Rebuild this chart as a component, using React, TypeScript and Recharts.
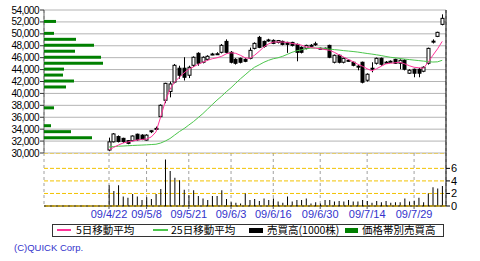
import React from 'react';
import {
  ComposedChart,
  BarChart,
  Bar,
  Line,
  XAxis,
  YAxis,
  CartesianGrid,
  ReferenceLine,
} from 'recharts';

// 営業日（09/4/22 上場〜09/8/6）
const dates = [
  '09/4/22', '09/4/23', '09/4/24', '09/4/27', '09/4/28', '09/4/30', '09/5/1', '09/5/7', '09/5/8', '09/5/11',
  '09/5/12', '09/5/13', '09/5/14', '09/5/15', '09/5/18', '09/5/19', '09/5/20', '09/5/21', '09/5/22', '09/5/25',
  '09/5/26', '09/5/27', '09/5/28', '09/5/29', '09/6/1', '09/6/2', '09/6/3', '09/6/4', '09/6/5', '09/6/8',
  '09/6/9', '09/6/10', '09/6/11', '09/6/12', '09/6/15', '09/6/16', '09/6/17', '09/6/18', '09/6/19', '09/6/22',
  '09/6/23', '09/6/24', '09/6/25', '09/6/26', '09/6/29', '09/6/30', '09/7/1', '09/7/2', '09/7/3', '09/7/6',
  '09/7/7', '09/7/8', '09/7/9', '09/7/10', '09/7/13', '09/7/14', '09/7/15', '09/7/16', '09/7/17', '09/7/21',
  '09/7/22', '09/7/23', '09/7/24', '09/7/27', '09/7/28', '09/7/29', '09/7/30', '09/7/31', '09/8/3', '09/8/4',
  '09/8/5', '09/8/6',
];

const open = [
  30500, 31870, 32760, 32460, 32070, 32070, 33150, 33000, 32160, 33640,
  34030, 36100, 38850, 40320, 41890, 44230, 44230, 43050, 44720, 46730,
  45230, 45720, 46560, 46610, 46900, 48730, 46900, 45720, 45890, 45720,
  45890, 47560, 49400, 48730, 48970, 48900, 48560, 48730, 48560, 48560,
  48230, 47730, 47560, 48080, 48280, 47590, 47540, 48060, 45230, 46400,
  45230, 45560, 45230, 44580, 45230, 42210, 44230, 45060, 45890, 45240,
  45400, 45720, 45060, 45560, 43390, 44060, 44060, 43720, 45060, 48730,
  49570, 51590,
];
const high = [
  32580, 33350, 32950, 32560, 32170, 32950, 33250, 33150, 33150, 33840,
  34430, 38160, 41790, 41990, 44940, 44650, 46070, 44650, 46220, 46910,
  46220, 46410, 46810, 46910, 48290, 49070, 47110, 45920, 46020, 45920,
  47690, 48570, 49650, 48870, 49170, 49070, 48970, 48870, 48670, 48670,
  48380, 47890, 48180, 48280, 48670, 47690, 47690, 48180, 46520, 46520,
  46020, 45720, 45340, 44740, 45340, 43370, 45230, 46020, 46020, 45440,
  45540, 45820, 45720, 45720, 44060, 44160, 44260, 44550, 47690, 49070,
  50350, 53270,
];
const low = [
  30300, 31770, 31770, 31670, 31470, 31970, 32070, 32160, 32070, 33340,
  33830, 35900, 38360, 39340, 41690, 42470, 42170, 42570, 44450, 44650,
  45040, 45530, 46420, 46510, 46710, 46710, 45040, 44840, 45040, 45240,
  45720, 47390, 47590, 47690, 48670, 48270, 48380, 48070, 46800, 47880,
  45390, 46710, 47390, 47880, 47980, 47490, 47390, 45920, 45040, 45040,
  45040, 45340, 44550, 43880, 41690, 41980, 43550, 44840, 44650, 45040,
  45240, 44940, 44060, 43860, 43270, 42710, 42710, 43560, 44840, 48380,
  49450, 51430,
];
const close = [
  31870, 33200, 31920, 31920, 31620, 32850, 32210, 32260, 33000, 33740,
  34130, 38010, 41690, 41590, 44720, 43050, 42710, 44390, 46070, 45060,
  46070, 46230, 46610, 46660, 48070, 46900, 45230, 45060, 45230, 45390,
  47230, 48400, 47730, 47890, 48920, 48400, 48870, 48230, 48230, 48060,
  46900, 46900, 48060, 48030, 48330, 47540, 47590, 46070, 46400, 45230,
  45890, 45530, 44720, 44550, 41880, 43220, 44190, 45890, 44890, 45210,
  45380, 45060, 45560, 44060, 43890, 43390, 43390, 44390, 47560, 48770,
  50250, 52600,
];

// 5日・25日移動平均
const ma5 = [
  30510, 30940, 31340, 31680, 31850, 32010, 32180, 32270, 32350, 32690,
  33530, 36030, 38700, 40700, 41960, 42710, 43460, 44050, 44460, 44890,
  45230, 45560, 45820, 45980, 46230, 46650, 46820, 46730, 46400, 45980,
  45890, 46400, 47060, 47810, 48310, 48620, 48620, 48620, 48560, 48390,
  48270, 48100, 47810, 47700, 47600, 47510, 47360, 47230, 46900, 46480,
  46100, 45700, 45320, 44890, 44560, 44140, 43800, 44140, 44560, 44970,
  45060, 45150, 45230, 44970, 44640, 44390, 44310, 44230, 45230, 46400,
  47480, 48730,
];
const ma25 = [
  31000, 31090, 31140, 31170, 31220, 31260, 31300, 31330, 31370, 31420,
  31470, 31670, 32010, 32430, 33020, 33600, 34100, 34690, 35270, 35940,
  36610, 37370, 38120, 38870, 39540, 40290, 40950, 41710, 42450, 43120,
  43800, 44390, 44800, 45230, 45560, 45820, 45980, 46230, 46560, 46900,
  47150, 47320, 47480, 47600, 47610, 47610, 47530, 47440, 47350, 47280,
  47180, 47110, 47030, 46940, 46820, 46700, 46600, 46480, 46350, 46200,
  46060, 45980, 45860, 45760, 45680, 45590, 45510, 45420, 45340, 45270,
  45300, 45560,
];

// 売買高(1000株)
const volume = [
  3.3, 2.4, 3.3, 1.5, 1.3, 1.9, 1.5, 0.95, 1.4, 1.1,
  1.9, 2.7, 7.4, 5.6, 4.5, 4.1, 2.6, 1.7, 2.5, 1.6,
  1.2, 0.95, 1.6, 1.6, 2.5, 1.1, 0.6, 0.5, 0.4, 2.0,
  0.95, 1.1, 0.8, 1.2, 0.95, 1.2, 0.7, 0.5, 1.5, 0.7,
  0.95, 0.95, 1.2, 0.4, 0.6, 0.4, 0.95, 0.95, 0.7, 0.8,
  0.7, 0.95, 0.7, 0.7, 0.95, 0.8, 0.5, 0.8, 0.6, 0.8,
  0.5, 0.6, 0.6, 1.2, 0.7, 0.85, 1.3, 0.6, 2.0, 3.0,
  2.8, 3.2,
];

// 価格帯別売買高
const bandPrices = [52000, 50000, 49000, 48000, 47000, 46000, 45000, 44000, 43000, 42000, 41000, 37500, 34500, 33500, 32500];
const bandVolumes = [12, 10, 32, 50, 31, 57, 59, 20, 19, 30, 22, 10, 7, 27, 48];

const tickLabels = ['09/4/22', '09/5/8', '09/5/21', '09/6/3', '09/6/16', '09/6/30', '09/7/14', '09/7/29'];
const priceTicks = [30000, 32000, 34000, 36000, 38000, 40000, 42000, 44000, 46000, 48000, 50000, 52000, 54000];
const volumeTicks = [0, 2, 4, 6];

const X_DOMAIN: [number, number] = [-13.85, 71.8];
const PINK = '#ff3399';
const LIGHT_GREEN = '#4cc64c';
const DARK_GREEN = '#008000';
const GOLD = '#f2c200';
const BLUE = '#3333cc';
const FONT = '"Liberation Sans", Arial, sans-serif';
const JP_FONT = '"Noto Sans CJK JP", sans-serif';

const rows = dates.map((date, i) => ({
  i,
  date,
  open: open[i],
  high: high[i],
  low: low[i],
  close: close[i],
  range: [low[i], high[i]],
  ma5: ma5[i],
  ma25: ma25[i],
  volume: volume[i],
}));

const bands = bandPrices.map((price, k) => ({ price, vol: bandVolumes[k] }));
const tickIdx = tickLabels.map(d => dates.indexOf(d));

// ローソク足
const Candle = (props: any) => {
  const { x, y, width, height, payload } = props;
  if (!payload || height == null) return null;
  const { open: o, high: h, low: l, close: c } = payload;
  const ratio = h > l ? height / (h - l) : 0;
  const cx = Math.round(x + width / 2) + 0.5;
  const yO = y + (h - o) * ratio;
  const yC = y + (h - c) * ratio;
  const top = Math.min(yO, yC);
  const bodyH = Math.max(Math.abs(yO - yC), 1);
  const up = c >= o;
  return (
    <g>
      <line x1={cx} x2={cx} y1={y} y2={y + height} stroke="#000" strokeWidth={1} />
      <rect
        x={cx - 1.5}
        y={top}
        width={3}
        height={bodyH}
        fill={up ? '#fff' : '#000'}
        stroke="#000"
        strokeWidth={1}
      />
    </g>
  );
};

const legendText: React.CSSProperties = {
  position: 'absolute',
  top: 223,
  fontFamily: JP_FONT,
  fontSize: 10.5,
  lineHeight: '14px',
  color: '#000',
  whiteSpace: 'nowrap',
};

export default function App() {
  return (
    <div style={{ position: 'absolute', left: 0, top: 0, width: 480, height: 261, background: '#fff', fontFamily: FONT }}>
      {/* 株価 */}
      <div style={{ position: 'absolute', left: 0, top: 0 }}>
        <ComposedChart width={480} height={162} data={rows} margin={{ top: 10, right: 34, bottom: 9, left: 0 }}>
          <CartesianGrid horizontal={false} stroke="#a0a0a0" strokeDasharray="3 3" />
          <CartesianGrid vertical={false} stroke="#b4b4b4" />
          <XAxis
            dataKey="i"
            type="number"
            domain={X_DOMAIN}
            allowDataOverflow
            ticks={tickIdx}
            interval={0}
            tick={false}
            tickLine={false}
            axisLine={false}
            height={0}
          />
          <YAxis
            type="number"
            domain={[30000, 54000]}
            allowDataOverflow
            ticks={priceTicks}
            interval={0}
            width={44}
            tickSize={4}
            tickMargin={1}
            tickFormatter={(v: number) => v.toLocaleString('en-US')}
            tick={{ fontSize: 10, fill: '#000', fontFamily: FONT, letterSpacing: -0.5 }}
            tickLine={{ stroke: '#333' }}
            axisLine={{ stroke: '#666' }}
          />
          <Bar dataKey="range" barSize={5} shape={<Candle />} isAnimationActive={false} />
          <Line type="linear" dataKey="ma25" stroke={LIGHT_GREEN} strokeWidth={1} dot={false} isAnimationActive={false} />
          <Line type="linear" dataKey="ma5" stroke={PINK} strokeWidth={1} dot={false} isAnimationActive={false} />
          <ReferenceLine x={X_DOMAIN[1]} stroke="#000" ifOverflow="visible" />
        </ComposedChart>
      </div>

      {/* 価格帯別売買高 */}
      <div style={{ position: 'absolute', left: 0, top: 0, pointerEvents: 'none' }}>
        <BarChart layout="vertical" width={480} height={162} data={bands} margin={{ top: 10, right: 34, bottom: 9, left: 44 }}>
          <XAxis type="number" domain={[0, 402]} allowDataOverflow hide />
          <YAxis type="number" dataKey="price" domain={[30000, 54000]} allowDataOverflow reversed hide />
          <Bar dataKey="vol" fill={DARK_GREEN} barSize={3} isAnimationActive={false} />
        </BarChart>
      </div>

      {/* 売買高 */}
      <div style={{ position: 'absolute', left: 0, top: 153 }}>
        <ComposedChart width={480} height={75} data={rows} margin={{ top: 0, right: 0, bottom: 0, left: 44 }}>
          <CartesianGrid horizontal={false} stroke="#a0a0a0" strokeDasharray="3 3" />
          <CartesianGrid vertical={false} stroke={GOLD} strokeDasharray="4 2" />
          <XAxis
            dataKey="i"
            type="number"
            domain={X_DOMAIN}
            allowDataOverflow
            ticks={tickIdx}
            interval={0}
            height={22}
            tickFormatter={(v: number) => dates[v]}
            tickSize={3}
            tickMargin={1}
            axisLine={false}
            tickLine={{ stroke: '#555' }}
            tick={{ fontSize: 11, fill: BLUE, fontFamily: FONT }}
          />
          <YAxis
            orientation="right"
            type="number"
            domain={[0, 8.45]}
            allowDataOverflow
            ticks={volumeTicks}
            interval={0}
            width={34}
            tickSize={4}
            tickMargin={1}
            axisLine={{ stroke: '#000' }}
            tickLine={{ stroke: '#000' }}
            tick={{ fontSize: 11, fill: '#000', fontFamily: FONT }}
          />
          <ReferenceLine y={0} stroke="#000" />
          <ReferenceLine y={0} stroke={GOLD} strokeDasharray="4 2" />
          <Bar dataKey="volume" fill="#000" barSize={1} isAnimationActive={false} />
        </ComposedChart>
      </div>

      {/* 凡例 */}
      <div style={{ position: 'absolute', left: 52, top: 224, width: 392, height: 13, border: '1px solid #333', boxSizing: 'border-box' }} />
      <div style={{ position: 'absolute', left: 57, top: 229, width: 14, height: 2, background: PINK }} />
      <div style={{ ...legendText, left: 76 }}>5日移動平均</div>
      <div style={{ position: 'absolute', left: 153, top: 229, width: 15, height: 2, background: LIGHT_GREEN }} />
      <div style={{ ...legendText, left: 171 }}>25日移動平均</div>
      <div style={{ position: 'absolute', left: 249, top: 228, width: 14, height: 5, background: '#000' }} />
      <div style={{ ...legendText, left: 267 }}>売買高(1000株)</div>
      <div style={{ position: 'absolute', left: 345, top: 228, width: 13, height: 5, background: DARK_GREEN }} />
      <div style={{ ...legendText, left: 362 }}>価格帯別売買高</div>

      <div style={{ position: 'absolute', left: 14, top: 242, fontFamily: FONT, fontSize: 9.5, lineHeight: '12px', color: BLUE, whiteSpace: 'nowrap' }}>
        (C)QUICK Corp.
      </div>
    </div>
  );
}
